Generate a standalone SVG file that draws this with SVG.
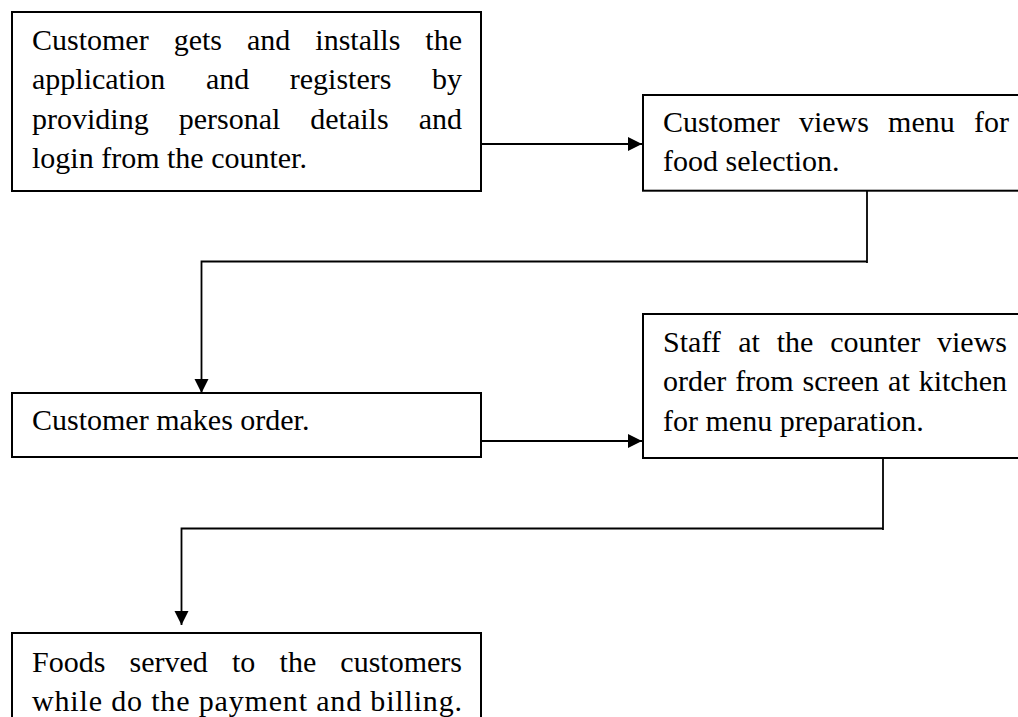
<svg xmlns="http://www.w3.org/2000/svg" width="1018" height="717" viewBox="0 0 1018 717">
<style>
.box{fill:#fff;stroke:#000;stroke-width:2}
.t{font-family:"Liberation Serif","Times New Roman",serif;font-size:30px;fill:#000}
.e{text-anchor:end}
.c{fill:none;stroke:#000;stroke-width:1.8}
</style>
<defs>
<marker id="ah" markerUnits="userSpaceOnUse" markerWidth="16" markerHeight="16" refX="14" refY="7" orient="auto">
<path d="M0,0 L14,7 L0,14 Z" fill="#000"/>
</marker>
</defs>
<rect width="1018" height="717" fill="#fff"/>
<g id="connectors">
<path class="c" d="M481,144 H642" marker-end="url(#ah)"/>
<path class="c" d="M867,191 V263"/>
<path class="c" d="M867,261.5 H201.5 V393" marker-end="url(#ah)"/>
<path class="c" d="M481,441 H642" marker-end="url(#ah)"/>
<path class="c" d="M883,458 V530"/>
<path class="c" d="M883,528.5 H181.5 V625" marker-end="url(#ah)"/>
</g>
<g id="n1">
<rect class="box" x="12" y="12" width="469" height="179"/>
<text class="t" y="50"><tspan x="32">Customer</tspan><tspan x="173.7">gets</tspan><tspan x="247">and</tspan><tspan x="315.3">installs</tspan></text>
<text class="t e" x="462" y="50">the</text>
<text class="t" y="89.4"><tspan x="32">application</tspan><tspan x="205.9">and</tspan><tspan x="289.8">registers</tspan></text>
<text class="t e" x="462" y="89.4">by</text>
<text class="t" y="128.8"><tspan x="32">providing</tspan><tspan x="178.7">personal</tspan><tspan x="310.3">details</tspan></text>
<text class="t e" x="462" y="128.8">and</text>
<text class="t" x="32" y="168.2">login from the counter.</text>
</g>
<g id="n2">
<rect class="box" x="643" y="95" width="400" height="95.7"/>
<text class="t" y="131.7"><tspan x="663">Customer</tspan><tspan x="798.9">views</tspan><tspan x="888.1">menu</tspan></text>
<text class="t e" x="1009" y="131.7">for</text>
<text class="t" x="663" y="171.1">food selection.</text>
</g>
<g id="n3">
<rect class="box" x="12" y="393" width="469" height="64"/>
<text class="t" x="32" y="430">Customer makes order.</text>
</g>
<g id="n4">
<rect class="box" x="643" y="314" width="400" height="144"/>
<text class="t" y="351.7"><tspan x="663">Staff</tspan><tspan x="738.2">at</tspan><tspan x="776.7">the</tspan><tspan x="830.2">counter</tspan></text>
<text class="t e" x="1007" y="351.7">views</text>
<text class="t" y="391.1"><tspan x="663">order</tspan><tspan x="735.3">from</tspan><tspan x="802.5">screen</tspan><tspan x="888.1">at</tspan></text>
<text class="t e" x="1007" y="391.1">kitchen</text>
<text class="t" x="663" y="430.5">for menu preparation.</text>
</g>
<g id="n5">
<rect class="box" x="12" y="633" width="469" height="100"/>
<text class="t" y="671.7"><tspan x="32">Foods</tspan><tspan x="129.5">served</tspan><tspan x="232">to</tspan><tspan x="279.6">the</tspan></text>
<text class="t e" x="462" y="671.7">customers</text>
<text class="t" x="32" y="711" textLength="430" lengthAdjust="spacing">while do the payment and billing.</text>
</g>
</svg>
